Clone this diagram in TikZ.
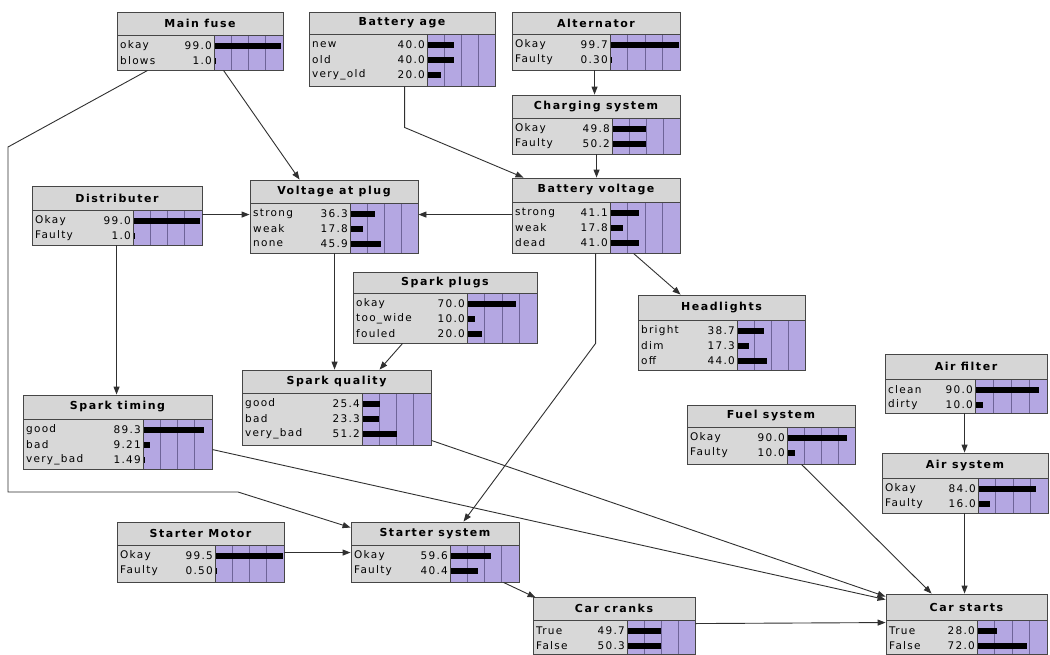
\documentclass[tikz,border=0pt]{standalone}
\usepackage{fontspec}
\usetikzlibrary{arrows.meta,calc}
\newfontfamily\ttlfont[LetterSpace=14]{DejaVu Sans}
\newfontfamily\bodyfont[LetterSpace=12]{DejaVu Sans}
\definecolor{titlegray}{HTML}{D6D6D6}
\definecolor{bodygray}{HTML}{D8D8D8}
\definecolor{purp}{HTML}{B4A7E2}
\definecolor{gridc}{HTML}{6E6498}
\definecolor{boxc}{HTML}{464646}
\definecolor{edgec}{HTML}{303030}
\tikzset{
  ttl/.style={font=\ttlfont\bfseries\fontsize{11}{13}\selectfont, inner sep=0pt},
  lab/.style={font=\bodyfont\fontsize{10.5}{12}\selectfont, inner sep=0pt},
  val/.style={font=\bodyfont\fontsize{10.5}{12}\selectfont, inner sep=0pt},
  gridline/.style={draw=gridc, line width=0.6pt},
  boxline/.style={draw=boxc, line width=0.9pt},
  edge/.style={draw=edgec, line width=0.9pt, -{Triangle[length=8pt,width=6pt]}},
  plain/.style={draw=edgec, line width=0.9pt}
}
% #1 name #2 x1 #3 y1 #4 x2 #5 title bottom #6 bottom #7 bar start #8 title #9 rows
\newcommand{\bnbox}[9]{%
  \fill[bodygray] (#2,#5) rectangle (#7,#6);
  \fill[purp] (#7,#5) rectangle (#4,#6);
  \fill[titlegray] (#2,#3) rectangle (#4,#5);
  \foreach \k in {1,2,3}{\draw[gridline] ({#7+\k*(#4-#7)/4},#5) -- ({#7+\k*(#4-#7)/4},#6);}
  \foreach \lab/\val [count=\i] in {#9}{%
    \pgfmathsetmacro\yy{#5+11+15*(\i-1)}
    \node[lab,anchor=west] at (#2+3,\yy) {\lab};
    \node[val,anchor=east] at (#7-2,\yy) {\val};
    \fill[black] (#7+1,\yy-3) rectangle ({#7+1+\val/100*(#4-#7-2)},\yy+3);
  }
  \draw[boxline] (#2,#5) -- (#4,#5) (#7,#5) -- (#7,#6);
  \node[boxline, inner sep=0pt, minimum width={(#4-#2)*1pt}, minimum height={(#6-#3)*1pt}] (#1) at ({(#2+#4)/2},{(#3+#6)/2}) {};
  \node[ttl] at ({(#2+#4)/2},{(#3+#5)/2}) {#8};
}
\begin{document}
\begin{tikzpicture}[x=1pt,y=-1pt]
\useasboundingbox[fill=white] (0,0) rectangle (1050,654);
\bnbox{mf}{117}{12}{283}{35}{70}{214}{Main fuse}{okay/99.0, blows/1.0}
\bnbox{ba}{309}{12}{495}{34}{86}{427}{Battery age}{new/40.0, old/40.0, very\_old/20.0}
\bnbox{alt}{512}{12}{680}{34}{70}{610}{Alternator}{Okay/99.7, Faulty/0.30}
\bnbox{cs}{512}{95}{680}{118}{154}{612}{Charging system}{Okay/49.8, Faulty/50.2}
\bnbox{bv}{512}{178}{680}{202}{253}{610}{Battery voltage}{strong/41.1, weak/17.8, dead/41.0}
\bnbox{di}{32}{186}{202}{210}{245}{133}{Distributer}{Okay/99.0, Faulty/1.0}
\bnbox{vp}{250}{180}{418}{203}{253}{350}{Voltage at plug}{strong/36.3, weak/17.8, none/45.9}
\bnbox{sp}{353}{272}{537}{293}{343}{467}{Spark plugs}{okay/70.0, too\_wide/10.0, fouled/20.0}
\bnbox{hl}{638}{295}{805}{320}{370}{737}{Headlights}{bright/38.7, dim/17.3, off/44.0}
\bnbox{sq}{242}{370}{431}{393}{445}{362}{Spark quality}{good/25.4, bad/23.3, very\_bad/51.2}
\bnbox{st}{23}{395}{212}{419}{469}{143}{Spark timing}{good/89.3, bad/9.21, very\_bad/1.49}
\bnbox{af}{885}{354}{1047}{379}{413}{975}{Air filter}{clean/90.0, dirty/10.0}
\bnbox{fs}{687}{405}{855}{427}{464}{787}{Fuel system}{Okay/90.0, Faulty/10.0}
\bnbox{as}{882}{453}{1048}{478}{513}{978}{Air system}{Okay/84.0, Faulty/16.0}
\bnbox{sm}{117}{522}{284}{545}{582}{215}{Starter Motor}{Okay/99.5, Faulty/0.50}
\bnbox{ss}{351}{522}{519}{545}{582}{450}{Starter system}{Okay/59.6, Faulty/40.4}
\bnbox{cc}{533}{597}{695}{620}{654}{627}{Car cranks}{True/49.7, False/50.3}
\bnbox{cst}{886}{594}{1047}{620}{654}{977}{Car starts}{True/28.0, False/72.0}
% waypoints
\coordinate (w1) at (8,147);
\coordinate (w2) at (8,492);
\coordinate (w3) at (238,492);
% connectors
\draw[edge] ($(mf.south west)+(107,0)$) -- ($(vp.north west)+(50,0)$);
\draw[edge] ($(mf.south west)+(31,0)$) -- (w1) -- (w2) -- (w3) -- ($(ss.north west)+(0,6)$);
\draw[edge] ($(ba.south west)+(96,0)$) -- ++(0,41) -- ($(bv.north west)+(12,0)$);
\draw[edge] ($(alt.south west)+(83,0)$) -- ($(cs.north west)+(83,0)$);
\draw[edge] ($(cs.south west)+(85,0)$) -- ($(bv.north west)+(85,0)$);
\draw[edge] ($(bv.north west)+(0,37)$) -- ($(vp.north east)+(0,35)$);
\draw[edge] ($(di.north east)+(0,29)$) -- ($(vp.north west)+(0,35)$);
\draw[edge] ($(di.south west)+(85,0)$) -- ($(st.north west)+(94,0)$);
\draw[edge] ($(vp.south west)+(85,0)$) -- ($(sq.north west)+(93,0)$);
\draw[edge] ($(sp.south west)+(50,0)$) -- ($(sq.north west)+(138,0)$);
\draw[edge] ($(bv.south west)+(122,0)$) -- ($(hl.north west)+(43,0)$);
\draw[edge] ($(bv.south west)+(84,0)$) -- ++(0,90) -- ($(ss.north west)+(113,0)$);
\draw[edge] ($(st.north east)+(0,55)$) -- ($(cst.north west)+(0,6)$);
\draw[edge] ($(sq.south east)+(0,-5)$) -- ($(cst.north west)+(0,3)$);
\draw[edge] ($(ss.south west)+(153,0)$) -- ($(cc.north west)+(3,1)$);
\draw[edge] ($(cc.north east)+(0,27)$) -- ($(cst.north west)+(0,29)$);
\draw[edge] ($(fs.south west)+(115,0)$) -- ($(cst.north west)+(46,0)$);
\draw[edge] ($(as.south west)+(83,0)$) -- ($(cst.north west)+(79,0)$);
\draw[edge] ($(af.south west)+(80,0)$) -- ($(as.north west)+(83,0)$);
\draw[edge] ($(sm.north east)+(0,31)$) -- ($(ss.north west)+(0,31)$);
\end{tikzpicture}
\end{document}
